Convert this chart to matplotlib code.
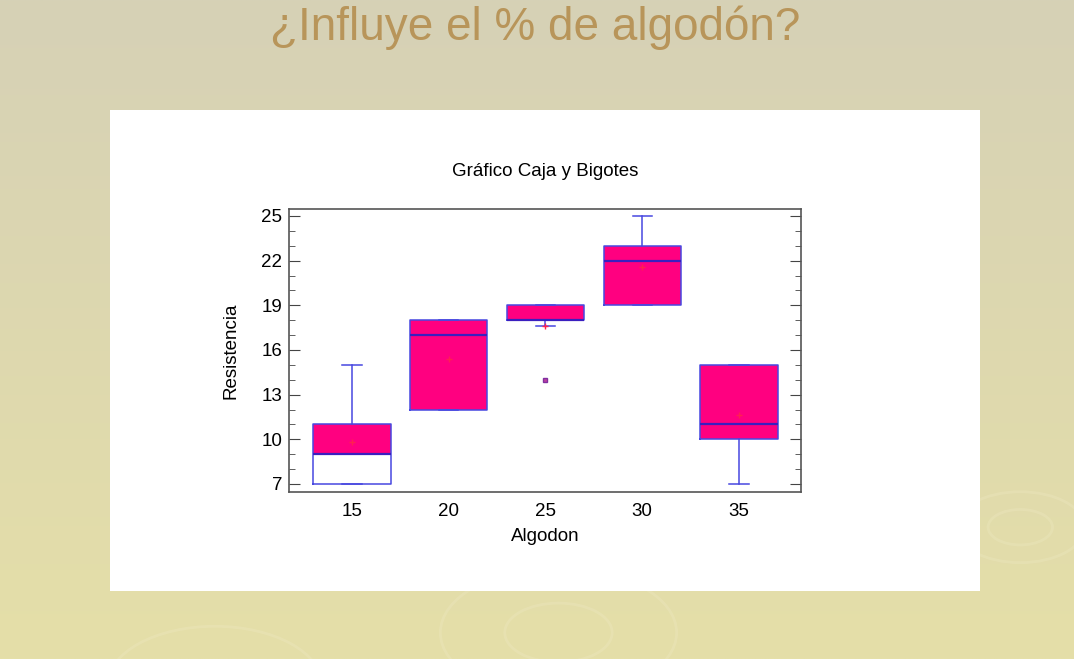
import matplotlib.pyplot as plt
import numpy as np
from matplotlib.patches import Rectangle, Ellipse

# Values
groups = [15, 20, 25, 30, 35]
q1 = [7, 12, 18, 19, 10]
med = [9, 17, 18, 22, 11]
q3 = [11, 18, 19, 23, 15]
whis_lo = [7, 12, 17.6, 19, 7]
whis_hi = [15, 18, 19, 25, 15]
means = [9.8, 15.4, 17.6, 21.6, 11.6]
outliers = [[], [], [14], [], []]
fill_lo = [9, 12, 18, 19, 10]   # magenta fill starts here (15 has white lower half)

y_ticks = [7, 10, 13, 16, 19, 22, 25]

slide_title = "¿Influye el % de algodón?"
chart_title = "Gráfico Caja y Bigotes"

W, H = 1074, 659
fig = plt.figure(figsize=(W / 100, H / 100), dpi=100)

# slide background gradient
bg = fig.add_axes([0, 0, 1, 1], zorder=-10)
top = np.array([214, 209, 182]) / 255
bot = np.array([229, 223, 168]) / 255
t = np.linspace(0, 1, 256)[:, None, None]
grad = top * (1 - t) + bot * t
grad = np.repeat(grad, 4, axis=1)
bg.imshow(grad, aspect='auto', extent=[0, 1, 0, 1], origin='upper')
# faint ripples
for (cx, cy, r) in [(0.95, 0.2, 0.03), (0.95, 0.2, 0.06), (0.52, 0.04, 0.05), (0.52, 0.04, 0.11), (0.2, -0.04, 0.1)]:
    bg.add_patch(Ellipse((cx, cy), 2 * r, 2 * r * 0.55 * W / H, fill=False,
                         ec='#efeac4', lw=2, alpha=0.3))
bg.set_xlim(0, 1)
bg.set_ylim(0, 1)
bg.axis('off')

# white panel holding the chart
fig.patches.append(Rectangle((110 / W, 1 - 591 / H), 870 / W, 481 / H,
                             transform=fig.transFigure, fc='white', ec='none', zorder=-5))

plt.rcParams['font.family'] = ['Liberation Sans', 'DejaVu Sans']

fig.text(0.498, 1 - 28 / H, slide_title, ha='center', va='center',
         fontsize=33, color='#b8955a')

ax = fig.add_axes([289 / W, 1 - 492 / H, 512 / W, 283 / H])
ax.set_facecolor('white')

magenta = '#ff0080'
blue = '#4848e0'
ax.bar(groups, np.array(q3) - np.array(fill_lo), bottom=fill_lo, width=4,
       color=magenta, edgecolor='none', zorder=1)

stats = []
for i in range(len(groups)):
    stats.append(dict(med=med[i], q1=q1[i], q3=q3[i], whislo=whis_lo[i],
                      whishi=whis_hi[i], fliers=outliers[i], mean=means[i]))
ax.bxp(stats, positions=groups, widths=4, capwidths=1.0, showmeans=True,
       boxprops=dict(color=blue, lw=1.1),
       whiskerprops=dict(color=blue, lw=1.1),
       capprops=dict(color=blue, lw=1.1),
       medianprops=dict(color='#3a1fbf', lw=1.6),
       meanprops=dict(marker='+', markeredgecolor='#ff2050', markersize=4, mew=1),
       flierprops=dict(marker='s', markersize=3, markerfacecolor='#c040a0',
                       markeredgecolor='#8030a0'),
       manage_ticks=False, zorder=2)

ax.set_xlim(11.75, 38.2)
ax.set_ylim(6.46, 25.47)
ax.set_xticks(groups)
ax.set_xticklabels([str(g) for g in groups])
ax.set_yticks(y_ticks)
ax.set_yticks(np.arange(7, 26, 1), minor=True)
ax.tick_params(axis='x', length=0, pad=8, labelsize=13.5)
ax.tick_params(axis='y', which='major', direction='in', length=8, right=True,
               labelsize=13.5, pad=5, color='#444444')
ax.tick_params(axis='y', which='minor', direction='in', length=4, right=True, color='#444444')
for s in ax.spines.values():
    s.set_color('#555555')
    s.set_linewidth(1.2)

ax.set_xlabel('Algodon', fontsize=13.5)
ax.xaxis.set_label_coords(0.5, -0.128)
ax.set_ylabel('Resistencia', fontsize=13.5)
ax.yaxis.set_label_coords(-0.097, 0.5)
ax.text(0.5, 1.131, chart_title, transform=ax.transAxes, ha='center', va='center', fontsize=13.5)

fig.savefig('out.png', dpi=100)
